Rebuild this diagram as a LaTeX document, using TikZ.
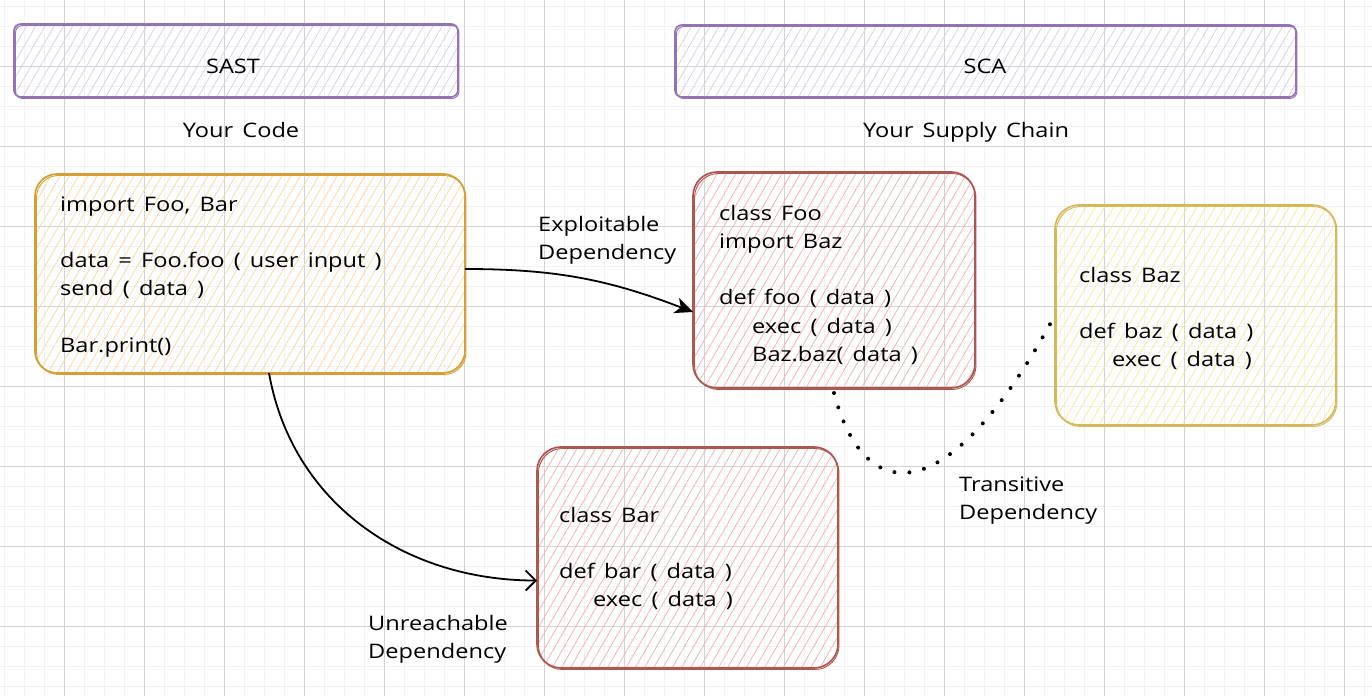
\documentclass[tikz,border=0pt]{standalone}
\usepackage{fontspec}
\setmainfont{Open Sans}[FakeStretch=1.18, WordSpace=1.5]
\usetikzlibrary{patterns.meta,arrows.meta,calc}
\definecolor{gridminor}{HTML}{F2F2F2}
\definecolor{gridmajor}{HTML}{D3D3D3}
\definecolor{purpS}{HTML}{9373B2}
\definecolor{purpF}{HTML}{DCCFEC}
\definecolor{orgS}{HTML}{D4A035}
\definecolor{orgF}{HTML}{FAD9AA}
\definecolor{redS}{HTML}{B05651}
\definecolor{redF}{HTML}{F0B6B2}
\definecolor{yelS}{HTML}{D6B85C}
\definecolor{yelF}{HTML}{F9E8AC}
\begin{document}
\begin{tikzpicture}[x=1pt,y=-1pt,
  box/.style={line width=1.7pt, inner sep=0pt, outer sep=0pt},
  hb/.style n args={3}{box, draw=#1, rounded corners=#3,
    pattern={Lines[angle=60,distance=8pt,line width=0.8pt]}, pattern color=#2},
  codetxt/.style={font=\fontsize{20}{28.3}\selectfont, inner sep=0pt, align=left, text=black, anchor=north west},
  lbl/.style={font=\fontsize{20}{28}\selectfont, inner sep=0pt, align=left, text=black},
  arr/.style={line width=1.8pt, -{Stealth[length=18pt,width=16pt,inset=5pt]}},
  barb/.style={line width=1.8pt, -{Straight Barb[length=10pt,width=20pt,line width=1.8pt]}},
  dots/.style={line width=4pt, line cap=round, dash pattern=on 0pt off 15pt}
]
\useasboundingbox (0,0) rectangle (1372,696);
\fill[white] (0,0) rectangle (1372,696);
% grid
\foreach \x in {4,24,...,1370} \draw[gridminor, line width=1pt] (\x,0) -- (\x,696);
\foreach \y in {6,26,...,694} \draw[gridminor, line width=1pt] (0,\y) -- (1372,\y);
\foreach \x in {64,144,...,1370} \draw[gridmajor, line width=1pt] (\x,0) -- (\x,696);
\foreach \y in {66,146,...,694} \draw[gridmajor, line width=1pt] (0,\y) -- (1372,\y);

% header boxes
\node[hb={purpS}{purpF}{7pt}, minimum width=444pt, minimum height=73pt] (sast) at (236,60.5) {};
\node[hb={purpS}{purpF}{7pt}, minimum width=621pt, minimum height=72pt] (sca) at (985.5,61) {};
\node[lbl, anchor=base] (sastt) at (233,73) {SAST};
\node[lbl, anchor=base] (scat) at (985,73) {SCA};
\node[lbl, anchor=base] (yc) at (241,137) {Your Code};
\node[lbl, anchor=base] (ysc) at (966,137) {Your Supply Chain};

% code boxes
\node[hb={orgS}{orgF}{22pt}, minimum width=430pt, minimum height=199pt] (code) at (250,273.5) {};
\node[hb={redS}{redF}{24pt}, minimum width=282pt, minimum height=216pt] (foo) at (834,280) {};
\node[hb={yelS}{yelF}{24pt}, minimum width=281pt, minimum height=220pt] (baz) at (1195.5,315) {};
\node[hb={redS}{redF}{24pt}, minimum width=301pt, minimum height=221pt] (bar) at (687.5,557.5) {};

% sketchy second outlines
\foreach \n/\c/\r in {sast/purpS/7pt, sca/purpS/7pt, code/orgS/22pt, foo/redS/24pt, baz/yelS/24pt, bar/redS/24pt}
  \draw[\c, line width=0.9pt, rounded corners=\r] ([shift={(1.5,1.5)}]\n.north west) rectangle ([shift={(1,1.5)}]\n.south east);

% texts
\node[codetxt] (codet) at (60,191) {\strut import Foo, Bar\\\mbox{}\\data = Foo.foo ( user input )\\send ( data )\\\mbox{}\\Bar.print()};
\node[codetxt] (foot) at (719,200) {\strut class Foo\\import Baz\\\mbox{}\\def foo ( data )\\\hspace*{33pt}exec ( data )\\\hspace*{33pt}Baz.baz( data )};
\node[codetxt] (bazt) at (1079,262) {\strut class Baz\\\mbox{}\\def baz ( data )\\\hspace*{33pt}exec ( data )};
\node[codetxt] (bart) at (559,502) {\strut class Bar\\\mbox{}\\def bar ( data )\\\hspace*{34pt}exec ( data )};

% labels
\node[lbl, anchor=north west] (expl) at (538,212) {\strut Exploitable\\Dependency};
\node[lbl, anchor=north west] (unre) at (368,611) {\strut Unreachable\\Dependency};
\node[lbl, anchor=north west] (tran) at (959,472) {\strut Transitive\\Dependency};

% connectors
\draw[arr] ([yshift=4.5pt]code.east) to[out=0, in=159] ([yshift=-32pt]foo.west);
\draw[barb] ([xshift=19pt]code.south) to[out=-80, in=180] ([yshift=-23pt]bar.west);
\draw[dots] ([yshift=-5pt]foo.south) .. controls ($(foo.south)+(31,122)$) and ($(baz.west)+(-105,195)$) .. (baz.west);
\end{tikzpicture}
\end{document}
